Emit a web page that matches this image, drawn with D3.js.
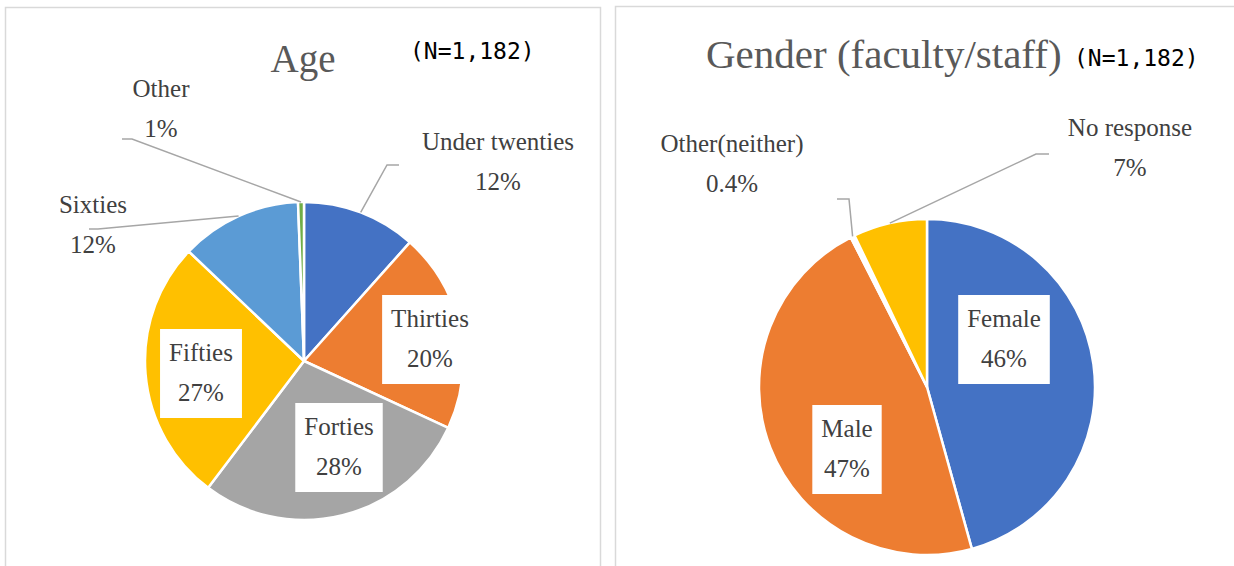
<!DOCTYPE html>
<html>
<head>
<meta charset="utf-8">
<script src="https://cdn.jsdelivr.net/npm/d3@7"></script>
<style>
  html, body { margin: 0; padding: 0; background: #fff; }
  svg { display: block; }
</style>
</head>
<body>
<div id="chart"></div>
<script>
// values (percent of N=1,182)
var ageCategories = ["Under twenties", "Thirties", "Forties", "Fifties", "Sixties", "Other"];
var ageValues = [11.6, 20.3, 28.4, 26.8, 12.3, 0.6];
var ageColors = ["#4472C4", "#ED7D31", "#A5A5A5", "#FFC000", "#5B9BD5", "#70AD47"];

var genderCategories = ["Female", "Male", "Other(neither)", "No response"];
var genderValues = [45.7, 46.8, 0.4, 7.1];
var genderColors = ["#4472C4", "#ED7D31", "#FFFFFF", "#FFC000"];

var sampleNote = "(N=1,182)";

// label placement, offsets from pie centre (text = first baseline, centred)
var ageLayout = {
  "Under twenties": { t: [194, -211], elbow: [83, -196], end: [95, -196] },
  "Thirties": { t: [126, -34], box: true },
  "Forties": { t: [35, 74], box: true },
  "Fifties": { t: [-103, 0], box: true },
  "Sixties": { t: [-211, -148], elbow: [-206, -132], end: [-215, -132] },
  "Other": { t: [-143, -264], elbow: [-172, -222], end: [-182, -222] }
};
var genderLayout = {
  "Female": { t: [77, -60], box: true },
  "Male": { t: [-80, 50], box: true },
  "Other(neither)": { t: [-195, -235], elbow: [-78, -188], end: [-90, -188] },
  "No response": { t: [203, -251], elbow: [109, -233], end: [122, -233] }
};

var W = 1234, H = 566;
var serif = "'Liberation Serif', 'Times New Roman', serif";
var lineGap = 40;

var svg = d3.select("#chart").append("svg").attr("width", W).attr("height", H);

// panel frames
svg.append("rect").attr("x", 5.5).attr("y", 7.5).attr("width", 595).attr("height", 600)
  .attr("fill", "none").attr("stroke", "#d9d9d9").attr("stroke-width", 1.5);
svg.append("rect").attr("x", 615.5).attr("y", 6.5).attr("width", 700).attr("height", 600)
  .attr("fill", "none").attr("stroke", "#d9d9d9").attr("stroke-width", 1.5);

function drawPie(opt) {
  var g = svg.append("g").attr("transform", "translate(" + opt.cx + "," + opt.cy + ")");
  var pie = d3.pie().sort(null).value(function(d) { return d; });
  var arc = d3.arc().innerRadius(0).outerRadius(opt.r);
  var arcs = pie(opt.values);

  g.selectAll("path.slice")
    .data(arcs)
    .enter().append("path")
    .attr("class", "slice")
    .attr("d", arc)
    .attr("fill", function(d, i) { return opt.colors[i]; })
    .attr("stroke", "#fff")
    .attr("stroke-width", 2.5)
    .attr("stroke-linejoin", "round");

  arcs.forEach(function(a, i) {
    var name = opt.categories[i];
    var lay = opt.layout[name];
    var txt = opt.format(a.value);

    if (lay.elbow) {
      var mid = (a.startAngle + a.endAngle) / 2;
      var rim = d3.pointRadial(mid, opt.r);
      g.append("polyline")
        .attr("points", [rim, lay.elbow, lay.end].map(function(p) { return p.join(","); }).join(" "))
        .attr("fill", "none")
        .attr("stroke", "#a6a6a6")
        .attr("stroke-width", 1.5);
    }

    var t = g.append("text")
      .attr("x", lay.t[0]).attr("y", lay.t[1])
      .attr("text-anchor", "middle")
      .style("font-family", serif)
      .style("font-size", "25px")
      .attr("fill", "#404040");
    t.append("tspan").attr("x", lay.t[0]).text(name);
    t.append("tspan").attr("x", lay.t[0]).attr("dy", lineGap).text(txt);

    if (lay.box) {
      var bb = t.node().getBBox();
      g.insert("rect", "text")
        .attr("x", bb.x - 9).attr("y", lay.t[1] - 32)
        .attr("width", bb.width + 18).attr("height", lineGap + 49)
        .attr("fill", "#fff");
    }
  });
}

drawPie({
  cx: 304, cy: 361, r: 159,
  categories: ageCategories, values: ageValues, colors: ageColors, layout: ageLayout,
  format: function(v) { return Math.round(v) + "%"; }
});

drawPie({
  cx: 927, cy: 387, r: 168,
  categories: genderCategories, values: genderValues, colors: genderColors, layout: genderLayout,
  format: function(v) { return v < 1 ? d3.format(".1f")(v) + "%" : Math.round(v) + "%"; }
});

// titles
svg.append("text").attr("x", 303).attr("y", 72).attr("text-anchor", "middle")
  .style("font-family", serif).style("font-size", "39px").attr("fill", "#595959").text("Age");
svg.append("text").attr("x", 706).attr("y", 68)
  .style("font-family", serif).style("font-size", "41px").attr("fill", "#595959").text("Gender (faculty/staff)");

svg.append("text").attr("x", 410).attr("y", 59)
  .style("font-family", "'DejaVu Sans Mono', monospace").style("font-size", "23px").attr("fill", "#000")
  .text(sampleNote);
svg.append("text").attr("x", 1074).attr("y", 66)
  .style("font-family", "'DejaVu Sans Mono', monospace").style("font-size", "23px").attr("fill", "#000")
  .text(sampleNote);
</script>
</body>
</html>
